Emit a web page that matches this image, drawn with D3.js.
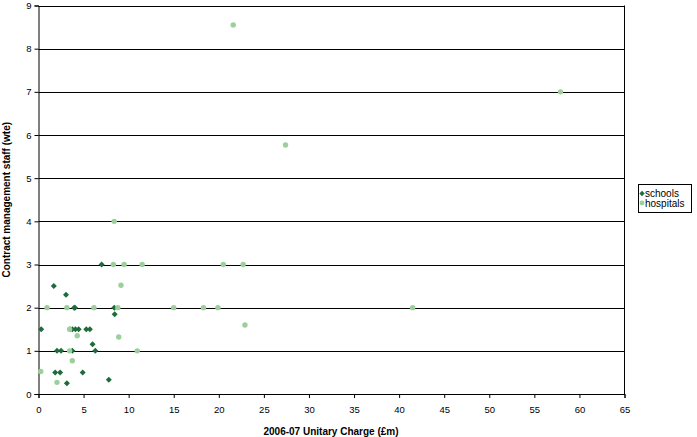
<!DOCTYPE html>
<html><head><meta charset="utf-8">
<script src="https://cdn.jsdelivr.net/npm/d3@7"></script>
<style>body{margin:0;background:#fff}svg{display:block}text{font-family:"Liberation Sans",Arial,sans-serif}</style>
</head><body>
<svg id="c" width="697" height="437"></svg>
<script>
const schoolsX = [7.0,1.7,3.05,3.95,4.05,8.4,8.45,0.3,3.5,3.75,4.1,4.45,5.3,5.7,6.0,6.3,2.05,2.5,3.75,1.85,2.4,4.9,3.15,7.8];
const schoolsY = [3.0,2.5,2.3,2.0,2.0,2.0,1.85,1.5,1.5,1.5,1.5,1.5,1.5,1.5,1.15,1.0,1.0,1.0,1.0,0.5,0.5,0.5,0.25,0.33];
const hospitalsX = [8.3,9.5,11.5,20.5,22.7,8.4,9.15,0.95,3.15,6.15,8.8,15,18.3,19.9,41.5,22.9,3.45,4.3,8.9,3.45,10.95,3.75,0.25,2.05,21.6,57.9,27.4];
const hospitalsY = [3.0,3.0,3.0,3.0,3.0,4.0,2.52,2.0,2.0,2.0,2.0,2.0,2.0,2.0,2.0,1.6,1.5,1.35,1.32,1.0,1.0,0.77,0.52,0.27,8.55,7.0,5.77];
const xTicks = d3.range(0, 66, 5);
const yTicks = d3.range(0, 10, 1);
const seriesNames = ["schools","hospitals"];

const svg = d3.select("#c");
const L = 38.5, R = 624.5, T = 5.5, B = 394;
const x = d3.scaleLinear().domain([0,65]).range([L,R]);
const y = d3.scaleLinear().domain([0,9]).range([B,T]);

svg.append("g").selectAll("line").data(yTicks.filter(d=>d>0)).join("line")
  .attr("x1",L).attr("x2",R).attr("y1",d=>Math.round(y(d))+0.5).attr("y2",d=>Math.round(y(d))+0.5)
  .attr("stroke","#000").attr("stroke-width",1);
svg.append("line").attr("x1",R).attr("x2",R).attr("y1",T).attr("y2",B).attr("stroke","#000");

const xAxis = svg.append("g").attr("transform",`translate(0,${B})`)
  .call(d3.axisBottom(x).tickValues(xTicks).tickSize(4).tickPadding(8).tickFormat(d3.format("d")));
const yAxis = svg.append("g").attr("transform",`translate(${L},0)`)
  .call(d3.axisLeft(y).tickValues(yTicks).tickSize(4).tickPadding(3).tickFormat(d3.format("d")));
[xAxis,yAxis].forEach(a=>{
  a.select(".domain").attr("stroke","#000");
  a.selectAll(".tick line").attr("stroke","#000");
  a.selectAll("text").attr("font-size",9.5).attr("fill","#000").attr("font-family","Liberation Sans, Arial, sans-serif");
});

svg.append("text").attr("x",331).attr("y",434.5).attr("text-anchor","middle")
  .attr("font-size",10).attr("font-weight","bold").text("2006-07 Unitary Charge (£m)");
svg.append("text").attr("transform",`translate(10,${(T+B)/2}) rotate(-90)`).attr("text-anchor","middle")
  .attr("font-size",10).attr("font-weight","bold").text("Contract management staff (wte)");

const dark = "#1e6b3c", light = "#9ccf9c";
const diamond = d3.symbol().type(d3.symbolSquare).size(18);
svg.append("g").selectAll("path").data(schoolsX.map((v,i)=>[v,schoolsY[i]])).join("path")
  .attr("d",diamond).attr("transform",d=>`translate(${x(d[0])},${y(d[1])}) rotate(45)`).attr("fill",dark);
svg.append("g").selectAll("circle").data(hospitalsX.map((v,i)=>[v,hospitalsY[i]])).join("circle")
  .attr("cx",d=>x(d[0])).attr("cy",d=>y(d[1])).attr("r",2.7).attr("fill",light);

const lg = svg.append("g");
lg.append("rect").attr("x",638.5).attr("y",184.5).attr("width",53).attr("height",28).attr("fill","#fff").attr("stroke","#000");
lg.append("path").attr("d",d3.symbol().type(d3.symbolSquare).size(14)).attr("transform","translate(642,193.5) rotate(45)").attr("fill",dark);
lg.append("circle").attr("cx",642).attr("cy",203).attr("r",2.4).attr("fill",light);
lg.append("text").attr("x",645).attr("y",197).attr("font-size",10).text(seriesNames[0]);
lg.append("text").attr("x",645).attr("y",207).attr("font-size",10).text(seriesNames[1]);
</script>
</body></html>
